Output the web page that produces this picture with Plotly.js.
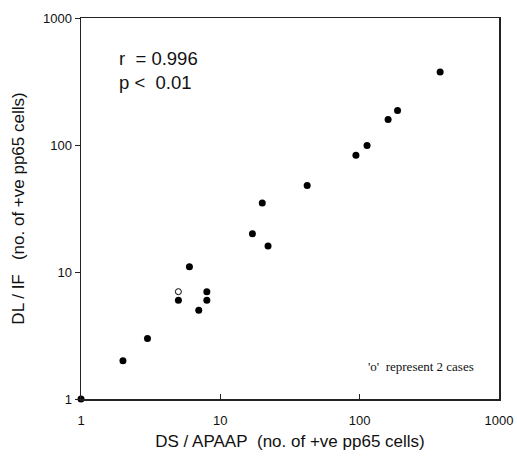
<!DOCTYPE html>
<html><head><meta charset="utf-8">
<script src="https://cdn.plot.ly/plotly-3.0.1.min.js"></script>
<style>html,body{margin:0;padding:0;background:#fff}#c{width:517px;height:459px}</style>
</head><body><div id="c"></div>
<script>
// Filled points: DS/APAAP (x) vs DL/IF (y)
const dsApaap = [1, 2, 3, 5, 6, 7, 8, 8, 17, 22, 20, 42, 94, 113, 160, 187, 378];
const dlIf    = [1, 2, 3, 6, 11, 5, 7, 6, 20, 16, 35, 48, 83, 99, 159, 187, 375];
// Open point (represents 2 cases)
const openX = [5];
const openY = [7];
const tickVals = [1, 10, 100, 1000];
const tickText = ["1", "10", "100", "1000"];

const axisCommon = {
  type: 'log', range: [0, 3], showgrid: false, zeroline: false,
  showline: true, mirror: true, linecolor: '#222', linewidth: 1.5,
  tickmode: 'array', tickvals: tickVals, ticktext: tickText,
  ticklen: 5, tickwidth: 1, tickcolor: '#222',
  tickfont: {family: 'Liberation Sans, Arial, sans-serif', size: 13, color: '#111'}
};

const data = [
  {x: dsApaap, y: dlIf, mode: 'markers', type: 'scatter', cliponaxis: false,
   marker: {color: '#000', size: 7}},
  {x: openX, y: openY, mode: 'markers', type: 'scatter', cliponaxis: false,
   marker: {color: '#fff', size: 6, line: {color: '#000', width: 1}}}
];

const layout = {
  width: 517, height: 459, showlegend: false,
  paper_bgcolor: '#fff', plot_bgcolor: '#fff',
  margin: {l: 81, r: 18, t: 18, b: 60},
  font: {family: 'Liberation Sans, Arial, sans-serif', color: '#111'},
  xaxis: Object.assign({}, axisCommon, {
    ticks: 'inside', ticklabelstandoff: 9,
    title: {text: 'DS / APAAP\u00a0\u00a0(no. of +ve pp65 cells)', font: {size: 17}, standoff: 8}
  }),
  yaxis: Object.assign({}, axisCommon, {
    ticks: 'outside',
    title: {text: 'DL / IF\u00a0\u00a0\u00a0(no. of +ve pp65 cells)', font: {size: 17}, standoff: 14}
  }),
  annotations: [
    {xref: 'paper', yref: 'paper', x: 0.085, y: 0.895, xanchor: 'left', yanchor: 'middle',
     text: 'r\u00a0\u00a0= 0.996', showarrow: false, font: {size: 18.5, color: '#111'}},
    {xref: 'paper', yref: 'paper', x: 0.085, y: 0.832, xanchor: 'left', yanchor: 'middle',
     text: 'p <\u00a0\u00a00.01', showarrow: false, font: {size: 18.5, color: '#111'}},
    {xref: 'paper', yref: 'paper', x: 0.945, y: 0.085, xanchor: 'right', yanchor: 'middle',
     text: "'o'\u00a0\u00a0represent 2 cases", showarrow: false,
     font: {family: 'Liberation Serif, Times New Roman, serif', size: 13, color: '#111'}}
  ]
};

Plotly.newPlot('c', data, layout, {displayModeBar: false, staticPlot: true});
</script>
</body></html>
